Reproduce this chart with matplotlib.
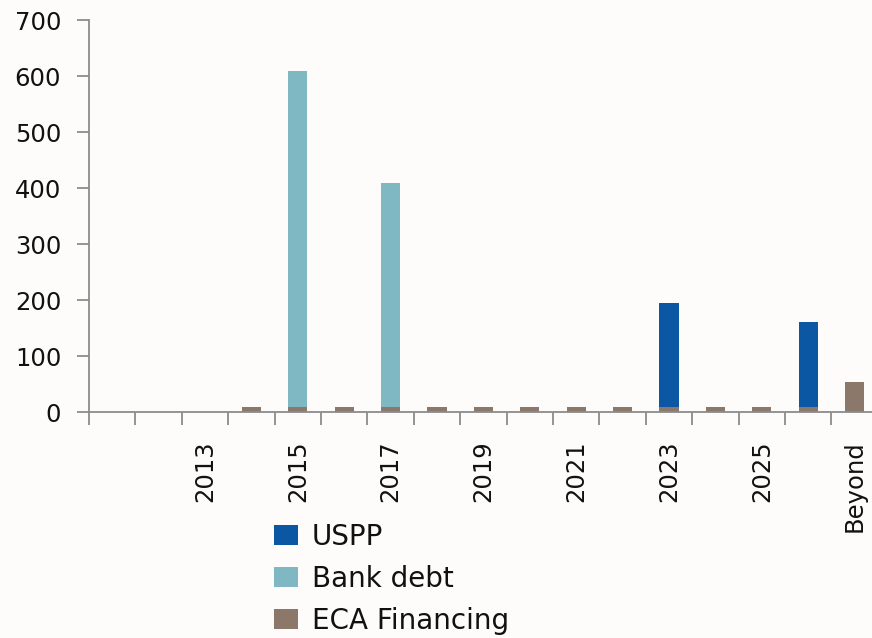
import matplotlib.pyplot as plt
import numpy as np

# Maturity profile data
categories = ['2011', '2012', '2013', '2014', '2015', '2016', '2017', '2018', '2019',
              '2020', '2021', '2022', '2023', '2024', '2025', '2026', 'Beyond']
tick_labels = ['', '', '2013', '', '2015', '', '2017', '', '2019',
               '', '2021', '', '2023', '', '2025', '', 'Beyond']
eca = [0, 0, 0, 10, 10, 10, 10, 10, 10, 10, 10, 10, 10, 10, 10, 10, 55]
bank_debt = [0, 0, 0, 0, 600, 0, 400, 0, 0, 0, 0, 0, 0, 0, 0, 0, 0]
uspp = [0, 0, 0, 0, 0, 0, 0, 0, 0, 0, 0, 0, 186, 0, 0, 152, 0]

c_uspp = '#0b57a3'
c_bank = '#7fb8c2'
c_eca = '#8b786a'
axis_col = '#8c8c8c'
bg = '#fdfcfa'

plt.rcParams['font.family'] = 'DejaVu Sans'

fig = plt.figure(figsize=(8.72, 6.38), dpi=100, facecolor=bg)
ax = fig.add_axes([89 / 872, 1 - 412.3 / 638, 788.8 / 872, 392 / 638])
ax.set_facecolor(bg)

x = np.arange(len(categories))
w = 0.41
eca_a = np.array(eca)
bank_a = np.array(bank_debt)
uspp_a = np.array(uspp)
b_eca = ax.bar(x, eca_a, w, color=c_eca, label='ECA Financing')
b_bank = ax.bar(x, bank_a, w, bottom=eca_a, color=c_bank, label='Bank debt')
b_uspp = ax.bar(x, uspp_a, w, bottom=eca_a + bank_a, color=c_uspp, label='USPP')

ax.set_xlim(-0.5, len(categories) - 0.5)
ax.set_ylim(0, 700)
ax.set_yticks(range(0, 701, 100))

ax.set_xticks(x)
ax.set_xticklabels(tick_labels, rotation=90, fontsize=17.5, color='#111111')
ax.set_xticks(np.arange(-0.5, len(categories), 1), minor=True)
ax.tick_params(axis='x', which='major', length=0, pad=20)
ax.tick_params(axis='x', which='minor', length=9, width=1.3, color=axis_col)
ax.tick_params(axis='y', length=9, width=1.3, color=axis_col, labelsize=17.5,
               labelcolor='#111111', pad=11)

for s in ['top', 'right']:
    ax.spines[s].set_visible(False)
for s in ['left', 'bottom']:
    ax.spines[s].set_color(axis_col)
    ax.spines[s].set_linewidth(1.3)
ax.spines['bottom'].set_zorder(5)

fig.legend(handles=[b_uspp, b_bank, b_eca], loc='upper left',
           bbox_to_anchor=(274 / 872, 1 - 523 / 638), frameon=False,
           fontsize=20, handlelength=0.87, handleheight=0.75,
           handletextpad=0.5, labelspacing=0.5, borderpad=0, borderaxespad=0,
           labelcolor='#111111')

fig.savefig('out.png', dpi=100, facecolor=bg)
